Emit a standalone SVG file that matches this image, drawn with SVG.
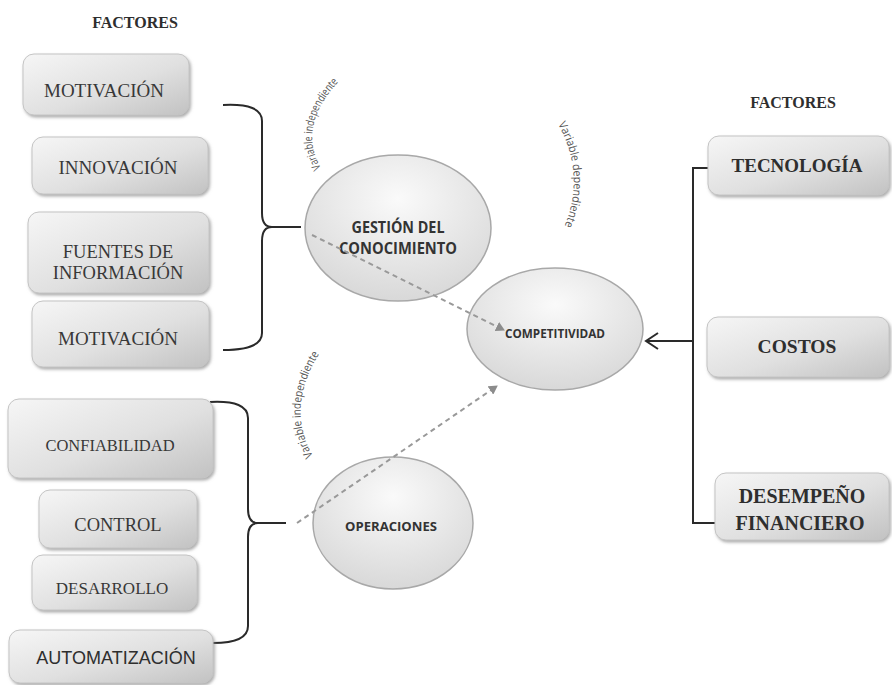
<svg xmlns="http://www.w3.org/2000/svg" xmlns:xlink="http://www.w3.org/1999/xlink" width="892" height="685" viewBox="0 0 892 685">
<style>
.box{fill:url(#bg);stroke:#c4c4c4;stroke-width:1;filter:url(#sh)}
.ell{fill:url(#eg);stroke:#a8a8a8;stroke-width:1.5}
.bt{font-family:"Liberation Serif",serif;fill:#383838;text-anchor:middle}
.rb{font-family:"Liberation Serif",serif;font-weight:bold;fill:#2e2e2e;text-anchor:middle}
.et{font-family:"Open Sans","Liberation Sans",sans-serif;font-weight:bold;fill:#333;text-anchor:middle}
.arc{font-family:"Open Sans","Liberation Sans",sans-serif;font-size:11.5px;fill:#555}
.br{fill:none;stroke:#2a2a2a;stroke-width:2}
.dash{fill:none;stroke:#999;stroke-width:2;stroke-dasharray:5 4}
</style>
<defs>
<linearGradient id="bg" x1="0" y1="0" x2="1" y2="1">
<stop offset="0" stop-color="#f6f6f6"/>
<stop offset="0.55" stop-color="#e0e0e0"/>
<stop offset="1" stop-color="#c2c2c2"/>
</linearGradient>
<radialGradient id="eg" cx="0.5" cy="0.3" r="0.75">
<stop offset="0" stop-color="#fafafa"/>
<stop offset="1" stop-color="#d6d6d6"/>
</radialGradient>
<filter id="sh" x="-10%" y="-10%" width="120%" height="130%">
<feDropShadow dx="1.5" dy="2" stdDeviation="1.5" flood-color="#8a8a8a" flood-opacity="0.7"/>
</filter>
<marker id="tri" markerWidth="10" markerHeight="10" refX="8" refY="5" orient="auto" markerUnits="userSpaceOnUse">
<path d="M0 0 L9 5 L0 10 Z" fill="#8c8c8c"/>
</marker>
<path id="a1" d="M 321 168 Q 296 125 342 78"/>
<path id="a2" d="M 558 124 Q 588 178 561 234"/>
<path id="a3" d="M 313 456 Q 284 405 323 348"/>
</defs>
<rect width="892" height="685" fill="#ffffff"/>

<text class="rb" x="135" y="28" font-size="16">FACTORES</text>
<text class="rb" x="793" y="108" font-size="16">FACTORES</text>

<g id="connectors">
<path class="br" d="M 223 105 Q 262 103 262 121 L 262 213 Q 262 227 272 227 Q 262 227 262 241 L 262 333 Q 262 350 223 350"/>
<path class="br" d="M 272 227 L 301 227"/>
<path class="br" d="M 210 402 Q 248 400 248 418 L 248 509 Q 248 523 258 523 Q 248 523 248 537 L 248 626 Q 248 643 213 643"/>
<path class="br" d="M 258 523 L 286 523"/>
<path class="br" d="M 708 168 L 693 168 L 693 523 L 715 523" stroke="#3a3a3a"/>
<path class="br" d="M 693 341 L 646 341" stroke="#555"/>
<path class="br" d="M 658 333 L 646 341 L 658 349" stroke="#555" stroke-width="1.6"/>
</g>

<g id="n-motivacion1"><rect class="box" x="23" y="54" width="166" height="61" rx="11"/><text class="bt" x="104" y="97" font-size="19">MOTIVACIÓN</text></g>
<g id="n-innovacion"><rect class="box" x="32" y="137" width="176" height="57" rx="11"/><text class="bt" x="118" y="174" font-size="19">INNOVACIÓN</text></g>
<g id="n-fuentes"><rect class="box" x="28" y="212" width="181" height="81" rx="11"/><text class="bt" x="118" y="258" font-size="18.5">FUENTES DE</text><text class="bt" x="118" y="279" font-size="18.5">INFORMACIÓN</text></g>
<g id="n-motivacion2"><rect class="box" x="32" y="301" width="177" height="66" rx="11"/><text class="bt" x="118" y="345" font-size="19">MOTIVACIÓN</text></g>
<g id="n-confiabilidad"><rect class="box" x="8" y="399" width="205" height="79" rx="11"/><text class="bt" x="110" y="451" font-size="16.5">CONFIABILIDAD</text></g>
<g id="n-control"><rect class="box" x="39" y="490" width="158" height="58" rx="11"/><text class="bt" x="118" y="531" font-size="18.5">CONTROL</text></g>
<g id="n-desarrollo"><rect class="box" x="32" y="555" width="165" height="55" rx="11"/><text class="bt" x="112" y="594" font-size="17">DESARROLLO</text></g>
<g id="n-automatizacion"><rect class="box" x="9" y="630" width="204" height="53" rx="11"/><text x="116" y="664" font-size="18" font-family="'Liberation Sans',Arial,sans-serif" fill="#2e2e2e" text-anchor="middle">AUTOMATIZACIÓN</text></g>

<g id="n-tecnologia"><rect class="box" x="708" y="136" width="181" height="59" rx="11"/><text class="rb" x="797" y="172" font-size="19">TECNOLOGÍA</text></g>
<g id="n-costos"><rect class="box" x="707" y="317" width="182" height="60" rx="11"/><text class="rb" x="797" y="353" font-size="19.5">COSTOS</text></g>
<g id="n-desempeno"><rect class="box" x="715" y="473" width="174" height="67" rx="11"/><text class="rb" x="802" y="503" font-size="20">DESEMPEÑO</text><text class="rb" x="800" y="530" font-size="20">FINANCIERO</text></g>

<g id="n-gestion"><ellipse class="ell" cx="398" cy="228" rx="93" ry="73"/><text class="et" x="398" y="233" font-size="15.5" textLength="93" lengthAdjust="spacingAndGlyphs">GESTIÓN DEL</text><text class="et" x="398" y="254" font-size="15.5" textLength="118" lengthAdjust="spacingAndGlyphs">CONOCIMIENTO</text></g>
<g id="n-competitividad"><ellipse class="ell" cx="555" cy="329" rx="88" ry="61"/><text class="et" x="555" y="338" font-size="12" textLength="100" lengthAdjust="spacingAndGlyphs">COMPETITIVIDAD</text></g>
<g id="n-operaciones"><ellipse class="ell" cx="393" cy="523" rx="80" ry="66"/><text class="et" x="391" y="531" font-size="13" textLength="92" lengthAdjust="spacingAndGlyphs">OPERACIONES</text></g>

<g id="dashed">
<path class="dash" d="M 312 235 L 504 330" marker-end="url(#tri)"/>
<path class="dash" d="M 297 523 L 497 386" marker-end="url(#tri)"/>
</g>

<g id="labels">
<text class="arc"><textPath href="#a1" xlink:href="#a1" textLength="95" lengthAdjust="spacingAndGlyphs">Variable  independiente</textPath></text>
<text class="arc"><textPath href="#a2" xlink:href="#a2" textLength="106" lengthAdjust="spacingAndGlyphs">Variable  dependiente</textPath></text>
<text class="arc"><textPath href="#a3" xlink:href="#a3" textLength="108" lengthAdjust="spacingAndGlyphs">Variable  independiente</textPath></text>
</g>
</svg>
